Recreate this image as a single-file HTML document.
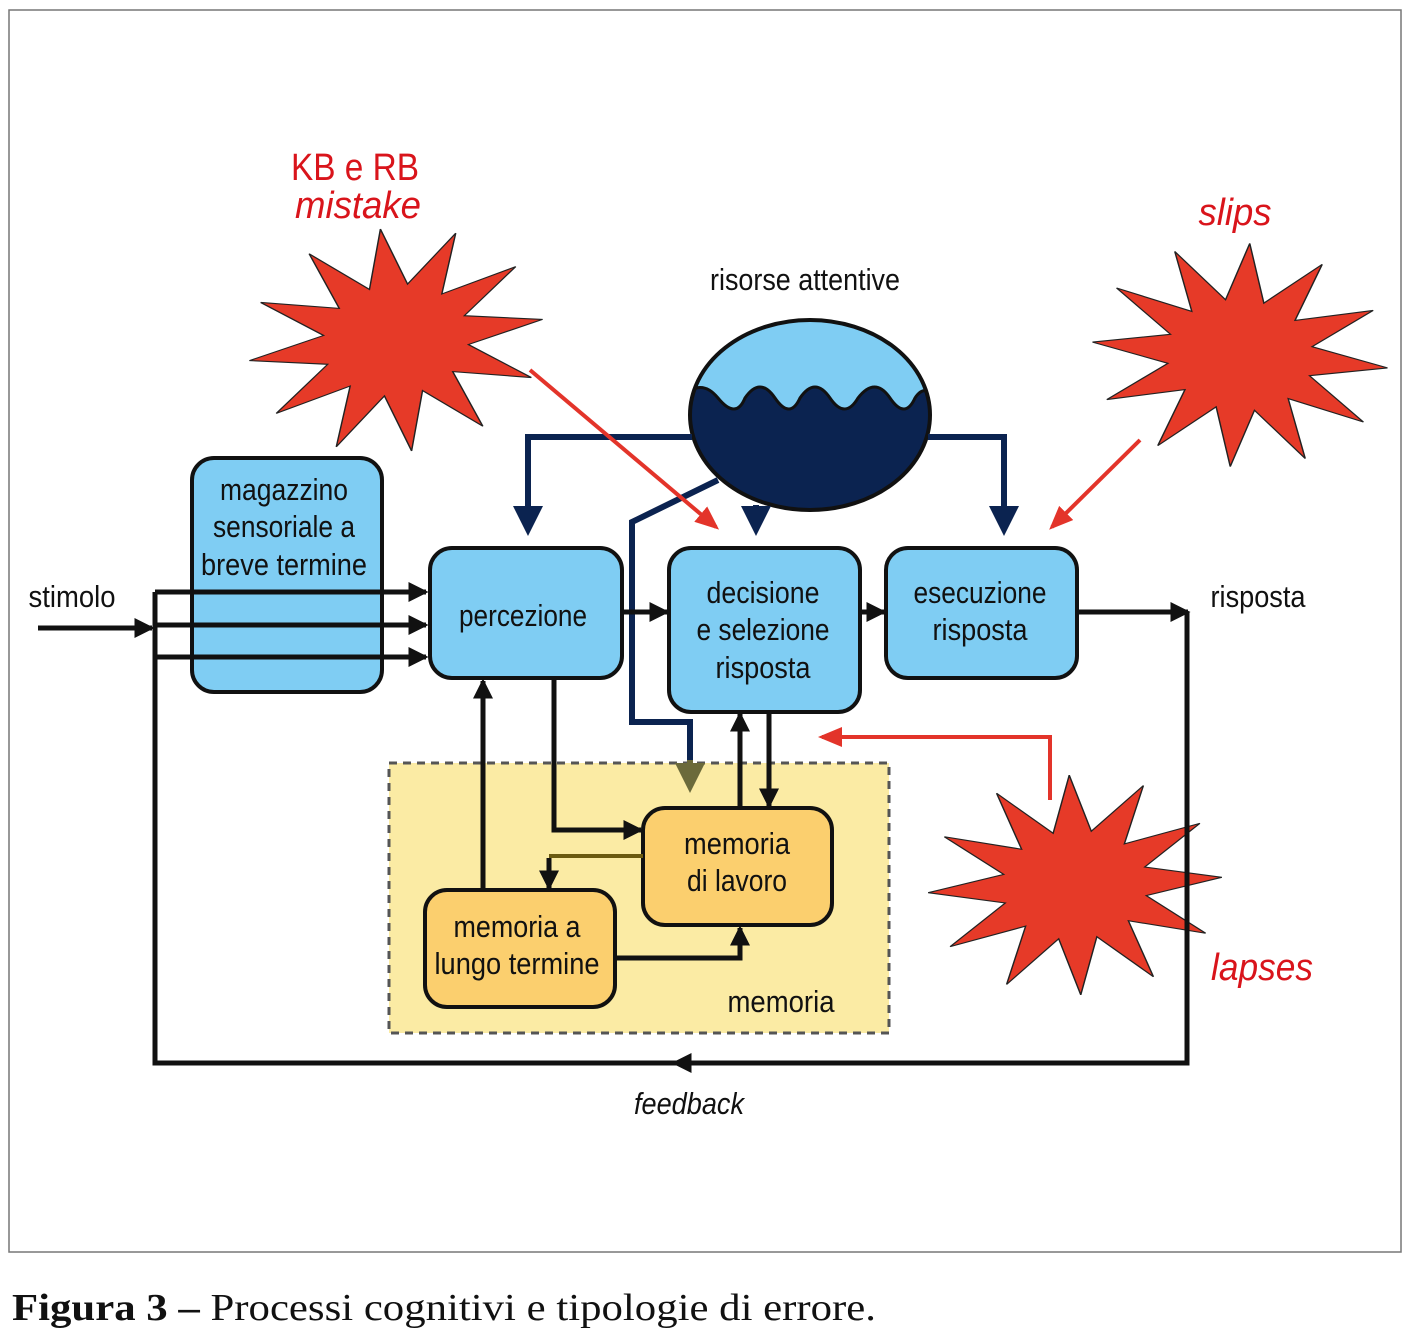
<!DOCTYPE html>
<html><head><meta charset="utf-8"><style>
html,body{margin:0;padding:0;background:#fff}
svg{display:block}
.t{font-family:"Liberation Sans Narrow","Liberation Sans",sans-serif;fill:#111;text-anchor:middle}
</style></head><body>
<svg width="1410" height="1340" viewBox="0 0 1410 1340" xmlns="http://www.w3.org/2000/svg">
<defs>
<marker id="ab" markerWidth="4" markerHeight="4" refX="3.5" refY="2" orient="auto" markerUnits="strokeWidth"><path d="M0,0 L4,2 L0,4 Z" fill="#111"/></marker>
<marker id="an" markerWidth="5" markerHeight="5" refX="4" refY="2.5" orient="auto" markerUnits="strokeWidth"><path d="M0,0 L5,2.5 L0,5 Z" fill="#0b2350"/></marker>
<marker id="ao" markerWidth="5" markerHeight="5" refX="4" refY="2.5" orient="auto" markerUnits="strokeWidth"><path d="M0,0 L5,2.5 L0,5 Z" fill="#6b6a3a"/></marker>
<marker id="ar" markerWidth="6" markerHeight="5" refX="5" refY="2.5" orient="auto" markerUnits="strokeWidth"><path d="M0,0 L6,2.5 L0,5 Z" fill="#e3342a"/></marker>
<clipPath id="ec"><ellipse cx="810" cy="415" rx="120" ry="95"/></clipPath>
<polygon id="star" points="100,0 48,13 87,50 35,35 50,87 13,48 0,100 -13,48 -50,87 -35,35 -87,50 -48,13 -100,0 -48,-13 -87,-50 -35,-35 -50,-87 -13,-48 0,-100 13,-48 50,-87 35,-35 87,-50 48,-13"/>
</defs>
<rect x="9" y="10" width="1392" height="1242" fill="#fff" stroke="#777" stroke-width="1.5"/>

<rect x="389" y="763" width="500" height="270" fill="#fbeba4" stroke="#555" stroke-width="3" stroke-dasharray="8,6"/>

<use href="#star" fill="#e63a28" stroke="#222" stroke-width="1" transform="translate(396,340) rotate(-8) scale(1.48,1.12)"/>
<use href="#star" fill="#e63a28" stroke="#222" stroke-width="1" transform="translate(1240,355) rotate(5) scale(1.48,1.12)"/>
<use href="#star" fill="#e63a28" stroke="#222" stroke-width="1" transform="translate(1075,885) rotate(-3) scale(1.47,1.1)"/>

<rect x="192" y="458" width="190" height="234" rx="22" fill="#7fcdf3" stroke="#111" stroke-width="4"/>
<rect x="430" y="548" width="192" height="130" rx="22" fill="#7fcdf3" stroke="#111" stroke-width="4"/>
<rect x="669" y="548" width="191" height="164" rx="22" fill="#7fcdf3" stroke="#111" stroke-width="4"/>
<rect x="886" y="548" width="191" height="130" rx="22" fill="#7fcdf3" stroke="#111" stroke-width="4"/>
<rect x="643" y="808" width="189" height="117" rx="22" fill="#fbcf6e" stroke="#111" stroke-width="4"/>
<rect x="425" y="890" width="190" height="117" rx="22" fill="#fbcf6e" stroke="#111" stroke-width="4"/>

<ellipse cx="810" cy="415" rx="120" ry="95" fill="#7fcdf3"/>
<path clip-path="url(#ec)" d="M680,400 Q700,376 718,398 T745,398 Q760,376 775,398 T800,398 Q815,376 830,398 T858,398 Q875,376 890,398 T915,398 Q925,382 940,400 L940,520 L680,520 Z" fill="#0b2350" stroke="#111" stroke-width="3"/>
<ellipse cx="810" cy="415" rx="120" ry="95" fill="none" stroke="#111" stroke-width="4"/>

<g fill="none" stroke="#0b2350" stroke-width="6">
<polyline points="692,437 528,437 528,530" marker-end="url(#an)"/>
<polyline points="928,437 1004,437 1004,530" marker-end="url(#an)"/>
<line x1="756" y1="505" x2="756" y2="530" marker-end="url(#an)"/>
<polyline points="718,480 632,522 632,722 690,722 690,765"/>
</g>
<line x1="690" y1="760" x2="690" y2="787" stroke="#6b6a3a" stroke-width="6" marker-end="url(#ao)"/>

<g fill="none" stroke="#111" stroke-width="5">
<line x1="38" y1="628" x2="152" y2="628" marker-end="url(#ab)"/>
<polyline points="155,592 155,1063 1187,1063 1187,612"/>
<line x1="155" y1="592" x2="426" y2="592" marker-end="url(#ab)"/>
<line x1="155" y1="625" x2="426" y2="625" marker-end="url(#ab)"/>
<line x1="155" y1="657" x2="426" y2="657" marker-end="url(#ab)"/>
<line x1="622" y1="612" x2="667" y2="612" marker-end="url(#ab)"/>
<line x1="860" y1="612" x2="884" y2="612" marker-end="url(#ab)"/>
<line x1="1077" y1="612" x2="1188" y2="612" marker-end="url(#ab)"/>
<line x1="700" y1="1063" x2="674" y2="1063" marker-end="url(#ab)"/>
<line x1="483" y1="890" x2="483" y2="681" marker-end="url(#ab)"/>
<polyline points="554,678 554,830 641,830" marker-end="url(#ab)"/>
<line x1="740" y1="808" x2="740" y2="714" marker-end="url(#ab)"/>
<line x1="769" y1="712" x2="769" y2="806" marker-end="url(#ab)"/>
<polyline points="615,958 740,958 740,928" marker-end="url(#ab)"/>
<polyline points="549,858 549,888" marker-end="url(#ab)"/>
</g>
<line x1="549" y1="856" x2="643" y2="856" stroke="#6b5a10" stroke-width="4"/>

<g fill="none" stroke="#e3342a" stroke-width="4">
<line x1="530" y1="370" x2="716" y2="527" marker-end="url(#ar)"/>
<line x1="1140" y1="440" x2="1052" y2="527" marker-end="url(#ar)"/>
<polyline points="1050,800 1050,737 822,737" marker-end="url(#ar)"/>
</g>

<g class="t" font-size="31" lengthAdjust="spacingAndGlyphs">
<text x="284" y="500" textLength="128" lengthAdjust="spacingAndGlyphs">magazzino</text>
<text x="284" y="537" textLength="142" lengthAdjust="spacingAndGlyphs">sensoriale a</text>
<text x="284" y="575" textLength="166" lengthAdjust="spacingAndGlyphs">breve termine</text>
<text x="523" y="626" textLength="128" lengthAdjust="spacingAndGlyphs">percezione</text>
<text x="763" y="603" textLength="113" lengthAdjust="spacingAndGlyphs">decisione</text>
<text x="763" y="640" textLength="133" lengthAdjust="spacingAndGlyphs">e selezione</text>
<text x="763" y="678" textLength="95" lengthAdjust="spacingAndGlyphs">risposta</text>
<text x="980" y="603" textLength="133" lengthAdjust="spacingAndGlyphs">esecuzione</text>
<text x="980" y="640" textLength="95" lengthAdjust="spacingAndGlyphs">risposta</text>
<text x="737" y="854" textLength="106" lengthAdjust="spacingAndGlyphs">memoria</text>
<text x="737" y="891" textLength="100" lengthAdjust="spacingAndGlyphs">di lavoro</text>
<text x="517" y="937" textLength="127" lengthAdjust="spacingAndGlyphs">memoria a</text>
<text x="517" y="974" textLength="165" lengthAdjust="spacingAndGlyphs">lungo termine</text>
<text x="781" y="1012" textLength="107" lengthAdjust="spacingAndGlyphs">memoria</text>
<text x="805" y="290" textLength="190" lengthAdjust="spacingAndGlyphs">risorse attentive</text>
<text x="72" y="607" textLength="87" lengthAdjust="spacingAndGlyphs">stimolo</text>
<text x="1258" y="607" textLength="95" lengthAdjust="spacingAndGlyphs">risposta</text>
<text x="689" y="1114" font-style="italic" textLength="110" lengthAdjust="spacingAndGlyphs">feedback</text>
</g>
<g class="t" font-size="38" style="fill:#d9141b">
<text x="355" y="180" textLength="128" lengthAdjust="spacingAndGlyphs">KB e RB</text>
<text x="358" y="218" font-style="italic" textLength="126" lengthAdjust="spacingAndGlyphs">mistake</text>
<text x="1235" y="225" font-style="italic" textLength="73" lengthAdjust="spacingAndGlyphs">slips</text>
<text x="1262" y="980" font-style="italic" textLength="102" lengthAdjust="spacingAndGlyphs">lapses</text>
</g>
<text x="12" y="1320" font-family="Liberation Serif,serif" font-size="38" fill="#111" textLength="864" lengthAdjust="spacingAndGlyphs"><tspan font-weight="bold">Figura 3 –</tspan> Processi cognitivi e tipologie di errore.</text>
</svg>
</body></html>
